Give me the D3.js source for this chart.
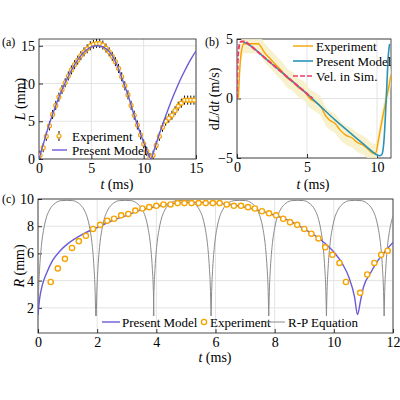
<!DOCTYPE html>
<html><head><meta charset="utf-8">
<script src="https://cdn.jsdelivr.net/npm/d3@7"></script>
<style>body{margin:0;background:#fff}svg text{font-family:"Liberation Serif","Times New Roman",serif !important}</style>
</head><body>
<svg id="fig" width="400" height="400"></svg>
<script>
// panel (a)
const aModelT = [0,0.5,1,1.5,2,2.5,3,3.5,4,4.5,5,5.5,6,6.5,7,7.5,8,8.5,9,9.5,10,10.4,10.7,11,11.5,12,12.5,13,13.5,14,14.5,15];
const aModelL = [0,2.4,4.7,6.7,8.5,10.1,11.5,12.7,13.7,14.4,14.85,15,14.9,14.5,13.7,12.3,10.4,8.5,6.2,4.1,2.2,0.8,0,1.2,3.3,5.3,7.2,8.9,10.5,11.9,13.2,14.3];
const aExpT = [0.1,0.4,0.7,1,1.3,1.6,1.9,2.2,2.5,2.8,3.1,3.4,3.7,4,4.3,4.6,4.9,5.2,5.5,5.8,6.1,6.4,6.7,7,7.3,7.6,7.9,8.2,8.5,8.8,9.1,9.4,9.7,10,10.3,10.6,10.9,11.2,11.5,11.8,12.1,12.4,12.7,13,13.3,13.6,13.9,14.2,14.5,14.8];
const aExpL = [0.5,1.5,3,4.4,5.9,7.1,8.2,9.2,10.1,11,11.8,12.5,13.1,13.7,14.2,14.6,15,15.2,15.3,15.3,15.1,14.7,14.2,13.6,12.9,12,10.9,9.7,8.5,7.1,5.8,4.5,3.2,2,1,0.2,0.5,1.8,3,4.2,5,5.4,5.8,6.4,7,7.4,7.8,7.8,7.8,7.8];

// panel (b)
const bExpT = [0.1,0.2,0.35,0.5,0.8,1.2,1.5,2,2.4,2.8,3.2,3.6,4,4.4,4.8,5.2,5.6,6,6.3,6.6,7,7.4,7.8,8.2,8.6,9,9.4,9.7,9.9,10.1,10.3,10.5,10.7,10.9,11];
const bExpV = [0,2.5,4.2,4.6,4.6,4.6,4.6,3.8,3.3,2.8,2.3,1.7,1.4,0.9,0.6,0,-0.3,-0.7,-1.4,-1.8,-2.1,-2.7,-3.1,-3.3,-3.7,-3.9,-4.3,-4.6,-4.6,-3.5,-2.2,-1,0.2,1.3,2];
const bModelT = [0.4,1,2,3,4,5,6,7,8,9,9.6,10,10.2,10.35,10.5,10.6,10.7,10.8,10.9];
const bModelV = [4.8,4.4,3.4,2.4,1.4,0.4,-0.7,-1.8,-2.8,-3.8,-4.4,-4.75,-4.8,-4.7,-3.5,-1.5,1,3.5,4.6];
const bSimT = [0,0.05,0.15,0.3,0.5,1,1.5,2,2.5,3,3.5,4,4.5,5,5.4];
const bSimV = [0,3,4.4,4.8,4.8,4.4,3.9,3.4,2.9,2.4,1.9,1.4,0.9,0.4,0];

// panel (c)
const cModelT = [0,0.05,0.15,0.3,0.5,0.75,1,1.5,2,2.5,3,3.5,4,4.5,5,5.5,6,6.5,7,7.5,8,8.5,9,9.5,10,10.3,10.5,10.7,10.8,10.9,11,11.25,11.5,11.75,12];
const cModelR = [1.5,2.6,3.7,4.6,5.5,6.2,6.7,7.4,7.9,8.4,8.8,9.2,9.45,9.65,9.75,9.75,9.7,9.6,9.4,9.15,8.8,8.4,7.8,7.1,6.1,5.2,4.3,2.8,1.5,2.5,3.5,4.6,5.5,6.2,6.8];
const cExpT = [0.43,0.67,0.91,1.15,1.38,1.62,1.86,2.1,2.34,2.57,2.81,3.05,3.29,3.53,3.76,4,4.24,4.48,4.72,4.95,5.19,5.43,5.67,5.91,6.14,6.38,6.62,6.86,7.1,7.33,7.57,7.81,8.05,8.29,8.52,8.76,9,9.24,9.48,9.71,9.95,10.19,10.41,10.89,11.13,11.37,11.6,11.82];
const cExpR = [3.9,4.9,5.6,6.4,6.9,7.3,7.8,8.1,8.4,8.55,8.8,8.9,9.15,9.3,9.4,9.5,9.6,9.6,9.7,9.7,9.7,9.7,9.7,9.7,9.7,9.6,9.5,9.5,9.4,9.3,9.1,8.95,8.8,8.55,8.3,8.1,7.8,7.45,7.1,6.45,5.9,5.3,3.9,3.1,4.45,5.3,5.9,6.2];
const rpCusps = [0,1.97,3.9,5.85,7.8,9.75,11.7];
const rpArchU = [0,0.01,0.03,0.06,0.1,0.15,0.2,0.3,0.4,0.5,0.6,0.7,0.8,0.85,0.9,0.94,0.97,0.99,1];
const rpArchR = [1.4,3.2,5,6.6,7.8,8.7,9.2,9.7,9.88,9.9,9.88,9.7,9.2,8.7,7.8,6.6,5,3.2,1.4];

const xTicksA = [0,5,10,15], yTicksA = [0,5,10,15];
const xTicksB = [0,5,10], yTicksB = [-5,0,5];
const xTicksC = [0,2,4,6,8,10,12], yTicksC = [2,4,6,8,10];

const ORANGE = "#f7a400", PURPLE = "#6a5bd6", TEAL = "#2b93b5", PINK = "#ee3a6c", GRAY = "#8a8a8a";
const FONT = "Liberation Serif";
const svg = d3.select("#fig");

function panel(box, xd, yd, xt, yt) {
  const x = d3.scaleLinear().domain(xd).range([box.l, box.r]);
  const y = d3.scaleLinear().domain(yd).range([box.b, box.t]);
  const g = svg.append("g");
  g.selectAll(".gx").data(xt).enter().append("line")
    .attr("x1", d => x(d)).attr("x2", d => x(d)).attr("y1", box.t).attr("y2", box.b)
    .attr("stroke", "#e3e3e3");
  g.selectAll(".gy").data(yt).enter().append("line")
    .attr("y1", d => y(d)).attr("y2", d => y(d)).attr("x1", box.l).attr("x2", box.r)
    .attr("stroke", "#e3e3e3");
  const ax = g.append("g").attr("transform", `translate(0,${box.b})`)
    .call(d3.axisBottom(x).tickValues(xt).tickSize(-4).tickPadding(4));
  const ay = g.append("g").attr("transform", `translate(${box.l},0)`)
    .call(d3.axisLeft(y).tickValues(yt).tickSize(-4).tickPadding(4).tickFormat(d3.format("d")));
  [ax, ay].forEach(a => {
    a.attr("font-family", FONT).attr("font-size", 14);
    a.select(".domain").remove();
    a.selectAll("text").attr("fill", "#000");
    a.selectAll("line").attr("stroke", "#333");
  });
  g.append("rect").attr("x", box.l).attr("y", box.t).attr("width", box.r - box.l).attr("height", box.b - box.t)
    .attr("fill", "none").attr("stroke", "#222").attr("stroke-width", 0.8);
  const clip = "c" + Math.round(box.l) + Math.round(box.t);
  svg.append("clipPath").attr("id", clip).append("rect")
    .attr("x", box.l).attr("y", box.t).attr("width", box.r - box.l).attr("height", box.b - box.t);
  const plot = svg.append("g").attr("clip-path", `url(#${clip})`);
  return {x, y, plot};
}
function line(p, T, V, color, w, dash) {
  const ln = d3.line().x(d => p.x(d[0])).y(d => p.y(d[1])).curve(d3.curveMonotoneX);
  p.plot.append("path").datum(T.map((t, i) => [t, V[i]])).attr("d", ln)
    .attr("fill", "none").attr("stroke", color).attr("stroke-width", w).attr("stroke-dasharray", dash || null);
}
function txt(x, y, s, opts = {}) {
  const t = svg.append("text").attr("x", x).attr("y", y).attr("font-size", opts.size || 13)
    .attr("font-family", FONT).attr("text-anchor", opts.anchor || "start").attr("fill", "#000");
  if (opts.rot) t.attr("transform", `rotate(-90,${x},${y})`);
  s.forEach(([str, it]) => t.append("tspan").attr("font-style", it ? "italic" : "normal").text(str));
}

// (a)
const pa = panel({l: 39, r: 196, t: 39, b: 159}, [0, 15], [0, 15.9], xTicksA, yTicksA);
pa.plot.selectAll(".eb").data(aExpT).enter().append("line")
  .attr("x1", d => pa.x(d)).attr("x2", d => pa.x(d))
  .attr("y1", (d, i) => pa.y(aExpL[i] - 0.6)).attr("y2", (d, i) => pa.y(aExpL[i] + 0.6))
  .attr("stroke", "#111").attr("stroke-width", 1);
pa.plot.selectAll(".pt").data(aExpT).enter().append("circle")
  .attr("cx", d => pa.x(d)).attr("cy", (d, i) => pa.y(aExpL[i])).attr("r", 2)
  .attr("fill", "#fff").attr("stroke", ORANGE).attr("stroke-width", 1.2);
line(pa, aModelT, aModelL, PURPLE, 1.4);
svg.append("line").attr("x1", 59).attr("x2", 59).attr("y1", 131).attr("y2", 141).attr("stroke", "#111");
svg.append("circle").attr("cx", 59).attr("cy", 136).attr("r", 2).attr("fill", "#fff").attr("stroke", ORANGE).attr("stroke-width", 1.2);
txt(72, 141, [["Experiment"]]);
svg.append("line").attr("x1", 52).attr("x2", 67).attr("y1", 150).attr("y2", 150).attr("stroke", PURPLE).attr("stroke-width", 1.4);
txt(72, 155, [["Present Model"]]);
txt(2, 46, [["(a)"]], {size: 12});
txt(117, 189, [["t", 1], [" (ms)"]], {anchor: "middle", size: 14});
txt(25, 99, [["L", 1], [" (mm)"]], {anchor: "middle", size: 14, rot: 1});

// (b)
const pb = panel({l: 237, r: 391, t: 39, b: 158}, [0, 11], [-5, 5], xTicksB, yTicksB);
const band = d3.area().x(d => pb.x(d[0])).y0(d => pb.y(d[1] - 0.8)).y1(d => pb.y(d[1] + 0.8)).curve(d3.curveMonotoneX);
pb.plot.append("path").datum(bExpT.map((t, i) => [t, bExpV[i]])).attr("d", band).attr("fill", "#f7efc4").attr("opacity", 0.85);
line(pb, bExpT, bExpV, ORANGE, 1.4);
line(pb, bModelT, bModelV, TEAL, 1.6);
line(pb, bSimT, bSimV, PINK, 2, "5,2");
svg.append("line").attr("x1", 293).attr("x2", 313).attr("y1", 46).attr("y2", 46).attr("stroke", ORANGE).attr("stroke-width", 1.4);
txt(316, 51, [["Experiment"]]);
svg.append("line").attr("x1", 293).attr("x2", 313).attr("y1", 61).attr("y2", 61).attr("stroke", TEAL).attr("stroke-width", 1.6);
txt(316, 66, [["Present Model"]]);
svg.append("line").attr("x1", 293).attr("x2", 313).attr("y1", 76).attr("y2", 76).attr("stroke", PINK).attr("stroke-width", 1.6).attr("stroke-dasharray", "5,2");
txt(316, 81, [["Vel. in Sim."]]);
txt(205, 46, [["(b)"]], {size: 12});
txt(313, 189, [["t", 1], [" (ms)"]], {anchor: "middle", size: 14});
txt(219, 99, [["d"], ["L", 1], ["/d"], ["t", 1], [" (m/s)"]], {anchor: "middle", size: 14, rot: 1});

// (c)
const pc = panel({l: 38, r: 393, t: 199, b: 333}, [0, 12], [0.15, 10], xTicksC, yTicksC);
rpCusps.forEach(c => {
  line(pc, rpArchU.map(u => c + u * 1.95), rpArchR, GRAY, 1);
});
line(pc, cModelT, cModelR, PURPLE, 1.4);
pc.plot.selectAll(".pc").data(cExpT).enter().append("circle")
  .attr("cx", d => pc.x(d)).attr("cy", (d, i) => pc.y(cExpR[i])).attr("r", 2.6)
  .attr("fill", "#fff").attr("stroke", ORANGE).attr("stroke-width", 1.4);
svg.append("line").attr("x1", 102).attr("x2", 120).attr("y1", 322).attr("y2", 322).attr("stroke", PURPLE).attr("stroke-width", 1.4);
txt(122, 327, [["Present Model"]]);
svg.append("circle").attr("cx", 204).attr("cy", 322).attr("r", 2.6).attr("fill", "#fff").attr("stroke", ORANGE).attr("stroke-width", 1.4);
txt(210, 327, [["Experiment"]]);
svg.append("line").attr("x1", 266).attr("x2", 285).attr("y1", 322).attr("y2", 322).attr("stroke", GRAY).attr("stroke-width", 1);
txt(288, 327, [["R-P Equation"]]);
txt(2, 203, [["(c)"]], {size: 12});
txt(215, 362, [["t", 1], [" (ms)"]], {anchor: "middle", size: 14});
txt(24, 266, [["R", 1], [" (mm)"]], {anchor: "middle", size: 14, rot: 1});
</script>
</body></html>
